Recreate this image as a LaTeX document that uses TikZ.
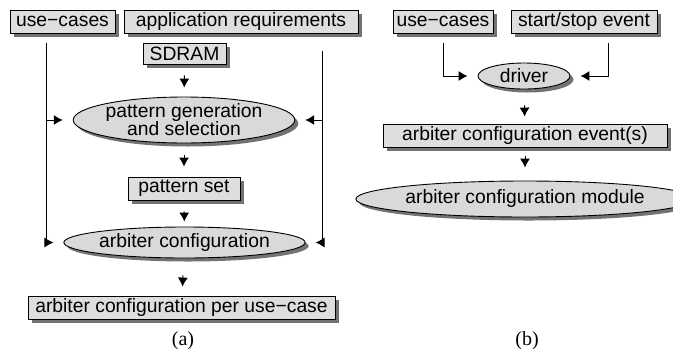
\documentclass[tikz,border=0pt]{standalone}
\usepackage{fontspec}
\setmainfont{Liberation Sans}
\newfontfamily\capfont{Liberation Serif}
\usepackage{tikz}
\usetikzlibrary{shapes.geometric}
\usetikzlibrary{shadows}
\usetikzlibrary{arrows.meta}

\begin{document}
\begin{tikzpicture}[x=1pt, y=-1pt,
	txt/.style={font=\fontsize{19.3pt}{18pt}\selectfont, text=black},
	box/.style={txt, draw=black, line width=0.9pt, fill=black!13, rectangle, inner sep=0pt,
		minimum height=23pt,
		drop shadow={shadow xshift=3.5pt, shadow yshift=-3.5pt, fill=black!55, opacity=1}},
	oval/.style={txt, draw=black, line width=0.9pt, fill=black!15, ellipse, inner sep=0pt, align=center,
		drop shadow={shadow xshift=3.5pt, shadow yshift=-3.5pt, fill=black!55, opacity=1}},
	conn/.style={-{Latex[length=9pt,width=10pt]}, line width=1pt, shorten >=10pt},
	stub/.style={-{Latex[length=9pt,width=10pt]}, line width=1pt}]
	\useasboundingbox (0,0) rectangle (673,360);

	% (a) design flow
	\node[box, minimum width=105pt] at (62.5,21.5) (uca) {use−cases};
	\node[box, minimum width=234pt] at (241,21.5) (appreq) {application requirements};
	\node[box, minimum width=83pt, minimum height=21pt] at (184.5,53.5) (sdram) {SDRAM};
	\node[oval, minimum width=202pt, minimum height=46pt] at (184,120) (pgs) {pattern generation\\and selection};
	\node[box, minimum width=112pt] at (184,188.5) (pset) {pattern set};
	\node[oval, minimum width=205pt, minimum height=31pt] at (184.5,242.5) (acfg) {arbiter configuration};
	\node[box, minimum width=307pt] at (181.5,307.5) (acpu) {arbiter configuration per use−case};
	\node[font=\capfont\fontsize{20pt}{22pt}\selectfont] at (183,341) (capa) {(a)};

	\coordinate (lbus) at (46,43);
	\coordinate (rbus) at (322,51);

	\draw[stub, shorten <=11pt, shorten >=9pt] (sdram) -- (pgs);
	\draw[stub, shorten <=12pt, shorten >=10pt] (pgs) -- (pset);
	\draw[stub, shorten <=11pt, shorten >=5pt] (pset) -- (acfg);
	\draw[stub, shorten <=17pt, shorten >=9pt] (acfg) -- (acpu);
	\draw[conn] (lbus) |- (acfg.west);
	\draw[conn] (lbus |- pgs.west) -- (pgs.west);
	\draw[conn] (rbus) |- (acfg.east);
	\draw[conn] (rbus |- pgs.east) -- (pgs.east);

	% (b) run-time
	\node[box, minimum width=100pt] at (443,21.5) (ucb) {use−cases};
	\node[box, minimum width=146pt] at (584,21.5) (sse) {start/stop event};
	\node[oval, minimum width=92pt, minimum height=26pt] at (524,76) (drv) {driver};
	\node[box, minimum width=284pt] at (525,135.5) (ace) {arbiter configuration event(s)};
	\node[oval, minimum width=295pt, minimum height=36pt] at (525,199) (acm) {arbiter configuration module};
	\node[font=\capfont\fontsize{20pt}{22pt}\selectfont] at (527,341) (capb) {(b)};

	\coordinate (sbus) at (608,43);

	\draw[conn] ([yshift=-10pt]ucb.south) |- (drv.west);
	\draw[conn] (sbus) |- (drv.east);
	\draw[stub, shorten <=16pt, shorten >=7pt] (drv) -- (ace);
	\draw[stub, shorten <=9pt, shorten >=13pt] (ace) -- (acm);
\end{tikzpicture}
\end{document}
